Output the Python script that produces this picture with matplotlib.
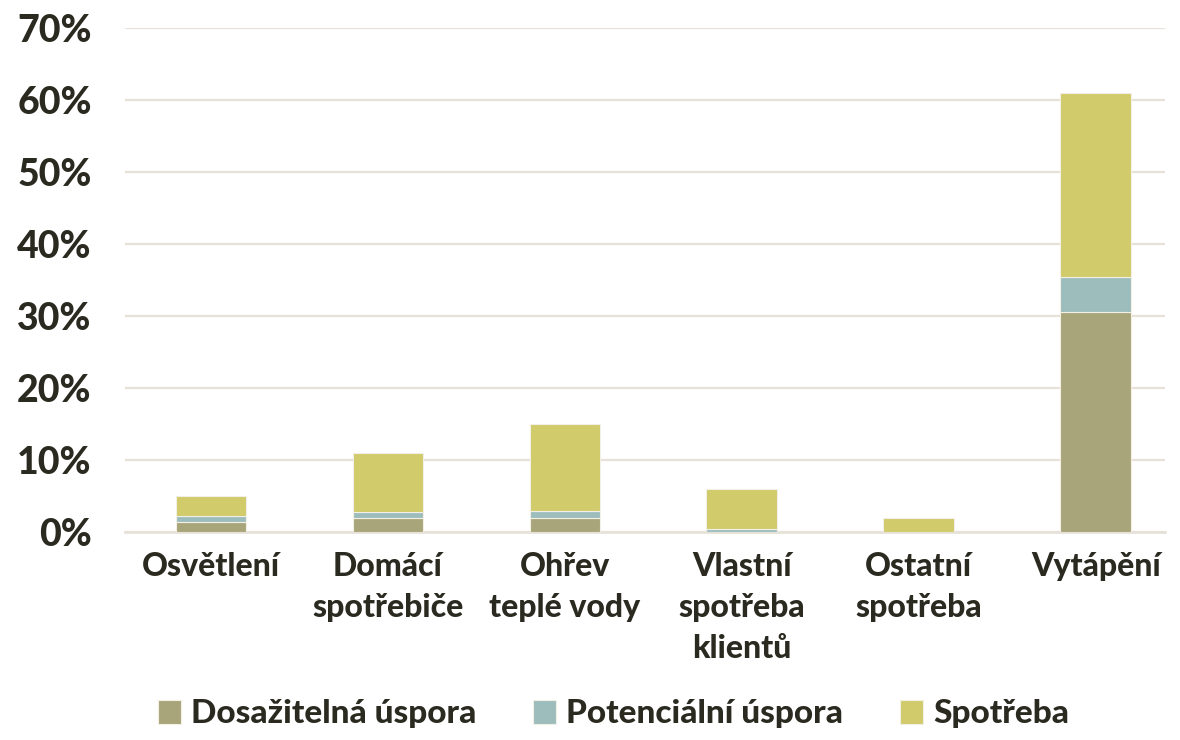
import matplotlib.pyplot as plt
import numpy as np

categories = ['Osvětlení', 'Domácí\nspotřebiče', 'Ohřev\nteplé vody',
              'Vlastní\nspotřeba\nklientů', 'Ostatní\nspotřeba', 'Vytápění']
# totals and savings in percent
dosazitelna = [1.4, 1.9, 1.9, 0.0, 0.0, 30.5]
potencialni = [0.8, 0.9, 1.0, 0.45, 0.0, 4.9]
celkem = [5.0, 11.0, 15.0, 6.0, 1.9, 61.0]
spotreba = [c - d - p for c, d, p in zip(celkem, dosazitelna, potencialni)]

plt.rcParams['font.family'] = ['Lato', 'DejaVu Sans']
text_color = '#2b2a20'

fig = plt.figure(figsize=(11.8, 7.4), dpi=100)
ax = fig.add_axes([0.106, 0.281, 0.881, 0.681])

x = np.arange(len(categories))
w = 0.4
edge = dict(edgecolor='#f2efe6', linewidth=0.8)
ax.bar(x, dosazitelna, w, color='#a8a57a', label='Dosažitelná úspora', zorder=3, **edge)
ax.bar(x, potencialni, w, bottom=dosazitelna, color='#9dbdbd', label='Potenciální úspora', zorder=3, **edge)
bottom2 = [d + p for d, p in zip(dosazitelna, potencialni)]
ax.bar(x, spotreba, w, bottom=bottom2, color='#d1cb6b', label='Spotřeba', zorder=3, **edge)

ax.set_ylim(0, 70)
ax.set_xlim(-0.486, 5.39)
ax.set_yticks(range(0, 71, 10))
ax.set_yticklabels([f'{v}%' for v in range(0, 71, 10)], fontsize=27,
                   fontweight='black', color=text_color)
ax.set_xticks(x)
ax.set_xticklabels(categories, fontsize=23, fontweight='black', color=text_color,
                   linespacing=1.5, va='top')
ax.tick_params(axis='both', length=0)
ax.tick_params(axis='y', pad=24)
ax.tick_params(axis='x', pad=14)
ax.grid(axis='y', color='#e6e2d9', linewidth=1.6, zorder=0)
for s in ['top', 'right', 'left']:
    ax.spines[s].set_visible(False)
ax.spines['bottom'].set_color('#e6e2d9')
ax.spines['bottom'].set_linewidth(2)

leg = fig.legend(loc='lower center', bbox_to_anchor=(0.52, -0.025), ncol=3, frameon=False,
                 prop={'size': 24, 'weight': 'black'}, handlelength=0.7, handleheight=0.7,
                 columnspacing=1.7, handletextpad=0.3)
for t in leg.get_texts():
    t.set_color(text_color)

fig.savefig('out.png', dpi=100)
